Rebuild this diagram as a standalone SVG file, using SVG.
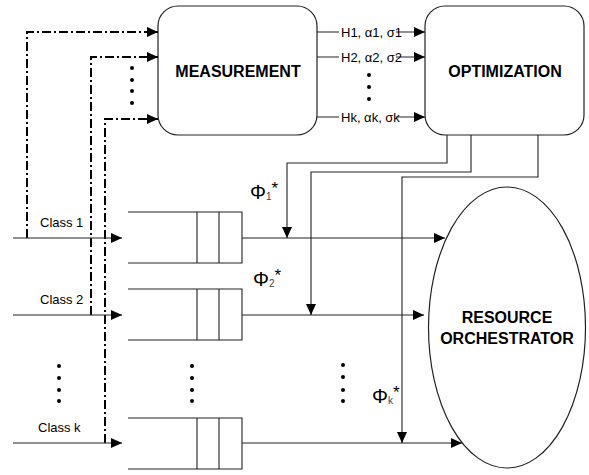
<svg xmlns="http://www.w3.org/2000/svg" width="589" height="475" viewBox="0 0 589 475">
<style>
.box{fill:#fff;stroke:#222;stroke-width:1.2}
.ln{fill:none;stroke:#222;stroke-width:1.1}
.dd{fill:none;stroke:#000;stroke-width:2;stroke-dasharray:9,3,2,3}
.t{font-family:"Liberation Sans",Arial,sans-serif;fill:#000}
.b{font-weight:bold;font-size:16px;text-anchor:middle}
.s{font-size:13px}
.phi{font-size:20px}
.sub{font-size:10px;fill:#444}
.star{font-size:17px}
.dot{fill:#000}
</style>
<defs>
<marker id="ah" markerWidth="12" markerHeight="10" refX="11" refY="5" orient="auto" markerUnits="userSpaceOnUse">
<path d="M0,0 L11,5 L0,10 Z" fill="#000"/>
</marker>
</defs>
<rect width="589" height="475" fill="#fff"/>

<g id="measurement">
<rect class="box" x="158" y="6" width="159" height="129" rx="20"/>
<text class="t b" x="238" y="77">MEASUREMENT</text>
</g>
<g id="optimization">
<rect class="box" x="425" y="6" width="159" height="129" rx="20"/>
<text class="t b" x="505" y="77">OPTIMIZATION</text>
</g>
<g id="orchestrator">
<ellipse class="box" cx="507" cy="327.5" rx="78.5" ry="140.5"/>
<text class="t b" x="507" y="323">RESOURCE</text>
<text class="t b" x="507" y="344">ORCHESTRATOR</text>
</g>
<g id="queue1">
<path class="ln" d="M128,212 H242 V263 H128 M197,212 V263 M219,212 V263"/>
</g>
<g id="queue2">
<path class="ln" d="M128,289 H242 V340 H128 M197,289 V340 M219,289 V340"/>
</g>
<g id="queuek">
<path class="ln" d="M128,418 H242 V469 H128 M197,418 V469 M219,418 V469"/>
</g>

<g id="connectors">
<line class="ln" x1="317" y1="32" x2="425" y2="32" marker-end="url(#ah)"/>
<line class="ln" x1="317" y1="57" x2="425" y2="57" marker-end="url(#ah)"/>
<line class="ln" x1="317" y1="117" x2="425" y2="117" marker-end="url(#ah)"/>
<rect x="339" y="24" width="57" height="16" fill="#fff"/>
<rect x="339" y="49" width="57" height="16" fill="#fff"/>
<rect x="339" y="109" width="57" height="16" fill="#fff"/>
<text class="t s" x="341" y="37">H1, α1, σ1</text>
<text class="t s" x="341" y="62">H2, α2, σ2</text>
<text class="t s" x="341" y="122">Hk, αk, σk</text>
<circle class="dot" cx="369" cy="75" r="2"/>
<circle class="dot" cx="369" cy="87" r="2"/>
<circle class="dot" cx="369" cy="99" r="2"/>

<path class="dd" d="M27,238 V32 H156"/>
<path class="dd" d="M91,315 V57 H156"/>
<path class="dd" d="M105,443 V119 H156"/>
<line x1="150" y1="32" x2="158" y2="32" stroke="#000" stroke-width="2" marker-end="url(#ah)"/>
<line x1="150" y1="57" x2="158" y2="57" stroke="#000" stroke-width="2" marker-end="url(#ah)"/>
<line x1="150" y1="119" x2="158" y2="119" stroke="#000" stroke-width="2" marker-end="url(#ah)"/>
<circle class="dot" cx="132" cy="68" r="2"/>
<circle class="dot" cx="132" cy="80" r="2"/>
<circle class="dot" cx="132" cy="91" r="2"/>
<circle class="dot" cx="132" cy="103" r="2"/>

<line class="ln" x1="13" y1="238" x2="122" y2="238" marker-end="url(#ah)"/>
<line class="ln" x1="13" y1="315" x2="122" y2="315" marker-end="url(#ah)"/>
<line class="ln" x1="13" y1="443" x2="122" y2="443" marker-end="url(#ah)"/>

<line class="ln" x1="242" y1="238" x2="445" y2="238" marker-end="url(#ah)"/>
<line class="ln" x1="242" y1="315" x2="424" y2="315" marker-end="url(#ah)"/>
<line class="ln" x1="242" y1="443" x2="462" y2="443" marker-end="url(#ah)"/>

<path class="ln" d="M447,135 V163 H287 V238" marker-end="url(#ah)"/>
<path class="ln" d="M471,135 V172 H311 V315" marker-end="url(#ah)"/>
<path class="ln" d="M538,135 V177 H402 V443" marker-end="url(#ah)"/>
</g>

<g id="labels">
<text class="t s" x="40" y="227">Class 1</text>
<text class="t s" x="40" y="304">Class 2</text>
<text class="t s" x="38" y="432">Class k</text>
<text class="t phi" x="250" y="199">Φ<tspan class="sub" dy="1">1</tspan><tspan class="star" dy="-6">*</tspan></text>
<text class="t phi" x="253" y="286">Φ<tspan class="sub" dy="1">2</tspan><tspan class="star" dy="-6">*</tspan></text>
<text class="t phi" x="372" y="403">Φ<tspan class="sub" dy="1">k</tspan><tspan class="star" dy="-6">*</tspan></text>
<circle class="dot" cx="59" cy="366" r="2"/>
<circle class="dot" cx="59" cy="378" r="2"/>
<circle class="dot" cx="59" cy="390" r="2"/>
<circle class="dot" cx="59" cy="401" r="2"/>
<circle class="dot" cx="192" cy="366" r="2"/>
<circle class="dot" cx="192" cy="378" r="2"/>
<circle class="dot" cx="192" cy="390" r="2"/>
<circle class="dot" cx="192" cy="401" r="2"/>
<circle class="dot" cx="343" cy="365" r="2"/>
<circle class="dot" cx="343" cy="377" r="2"/>
<circle class="dot" cx="343" cy="390" r="2"/>
<circle class="dot" cx="343" cy="401" r="2"/>
</g>
</svg>
